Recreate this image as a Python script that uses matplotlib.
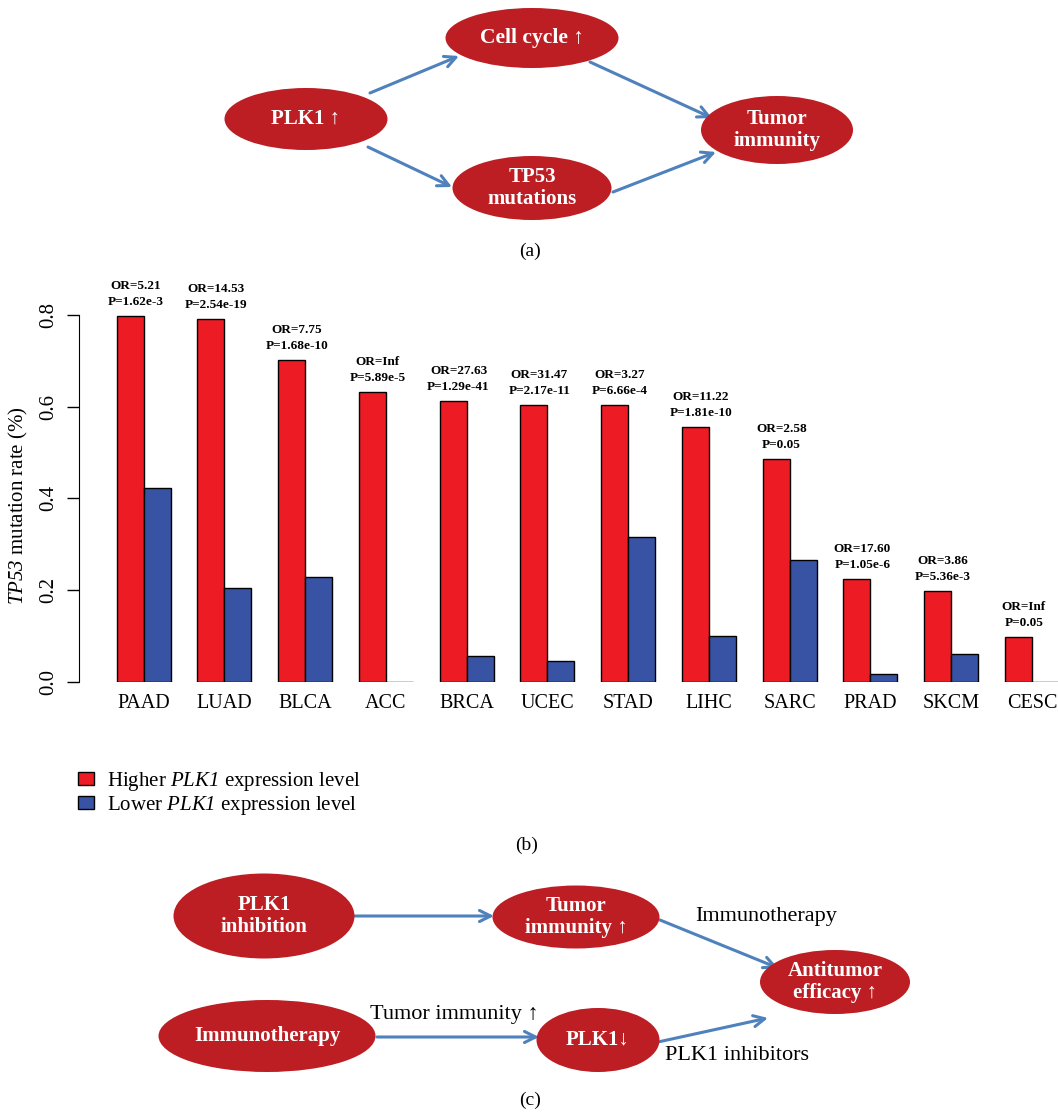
import numpy as np
import matplotlib
matplotlib.use("Agg")
import matplotlib.pyplot as plt
from matplotlib.patches import Ellipse, Patch

plt.rcParams['font.family'] = ['Liberation Serif', 'DejaVu Serif']
# mathtext is only used for the italic gene names, digits included
plt.rcParams['mathtext.fontset'] = 'custom'
plt.rcParams['mathtext.rm'] = 'Liberation Serif:italic'
plt.rcParams['mathtext.it'] = 'Liberation Serif:italic'

# TP53 mutation rate by PLK1 expression group
cancers = ["PAAD", "LUAD", "BLCA", "ACC", "BRCA", "UCEC",
           "STAD", "LIHC", "SARC", "PRAD", "SKCM", "CESC"]
higher_plk1 = [0.797, 0.791, 0.701, 0.632, 0.612, 0.604,
               0.603, 0.556, 0.485, 0.224, 0.197, 0.097]
lower_plk1 = [0.423, 0.204, 0.229, 0.0, 0.055, 0.045,
              0.316, 0.100, 0.265, 0.017, 0.060, 0.0]
odds_ratios = ["5.21", "14.53", "7.75", "Inf", "27.63", "31.47",
               "3.27", "11.22", "2.58", "17.60", "3.86", "Inf"]
p_values = ["1.62e-3", "2.54e-19", "1.68e-10", "5.89e-5", "1.29e-41", "2.17e-11",
            "6.66e-4", "1.81e-10", "0.05", "1.05e-6", "5.36e-3", "0.05"]
yticks = [0.0, 0.2, 0.4, 0.6, 0.8]

W, H = 1058, 1113
RED = "#ED1C24"
BLUE = "#3953A4"
NODE = "#BC1E24"
ARROW = "#4F81BD"

fig = plt.figure(figsize=(W / 100, H / 100), dpi=100)

# full-figure canvas in pixel units for the two flow diagrams
canvas = fig.add_axes([0, 0, 1, 1])
canvas.set_xlim(0, W)
canvas.set_ylim(H, 0)
canvas.axis("off")


def node(x, y, w, h, text, size=15):
    canvas.add_patch(Ellipse((x, y), w, h, facecolor=NODE, edgecolor="none", zorder=2))
    canvas.text(x, y, text, color="white", fontsize=size, fontweight="bold",
                ha="center", va="center", linespacing=1.1, zorder=3)


def arrow(start, end):
    canvas.annotate("", xy=end, xytext=start,
                    arrowprops=dict(arrowstyle="->", color=ARROW, lw=2.2,
                                    mutation_scale=20, shrinkA=0, shrinkB=0),
                    zorder=1)


# (a) PLK1 -> cell cycle / TP53 -> tumor immunity
arrow((370, 93), (459, 56))
arrow((368, 147), (452, 187))
arrow((590, 62), (712, 118))
arrow((613, 192), (716, 152))
node(532, 38, 173, 60, "Cell cycle \u2191", size=15.5)
node(306, 119, 163, 62, "PLK1 \u2191")
node(532, 188, 159, 64, "TP53\nmutations")
node(777, 130, 152, 68, "Tumor\nimmunity")
canvas.text(530, 251, "(a)", fontsize=14, ha="center", va="center")

# (c) combination of PLK1 inhibition and immunotherapy
arrow((355, 916), (494, 916))
arrow((377, 1037), (539, 1037))
arrow((660, 920), (778, 968))
arrow((658, 1042), (768, 1018))
node(264, 916, 181, 85, "PLK1\ninhibition")
node(576, 917, 167, 63, "Tumor\nimmunity \u2191")
node(267, 1036, 217, 72, "Immunotherapy")
node(598, 1040, 123, 64, "PLK1\u2193")
node(835, 982, 150, 64, "Antitumor\nefficacy \u2191")
canvas.text(766, 916, "Immunotherapy", fontsize=16, ha="center", va="center")
canvas.text(454, 1015, "Tumor immunity \u2191", fontsize=16, ha="center", va="center")
canvas.text(737, 1055, "PLK1 inhibitors", fontsize=16, ha="center", va="center")
canvas.text(530, 1100, "(c)", fontsize=14, ha="center", va="center")

# (b) grouped bar chart
ax = fig.add_axes([79 / W, 1 - 681.7 / H, 979 / W, 366.7 / H])
groups = np.arange(len(cancers)) * 3
x_red = groups + 1.5
x_blue = groups + 2.5
ax.bar(x_red, higher_plk1, width=1, color=RED, edgecolor="black", linewidth=1.0)
ax.bar(x_blue, lower_plk1, width=1, color=BLUE, edgecolor="black", linewidth=1.0)

for xr, top, odds, p in zip(x_red, higher_plk1, odds_ratios, p_values):
    ax.text(xr + 0.2, top + 0.018, f"OR={odds}\nP={p}", ha="center", va="bottom",
            fontsize=9.5, fontweight="bold", linespacing=1.45, clip_on=False)

ax.set_xlim(-0.40, 35.97)
ax.set_ylim(0, 0.8)
ax.set_yticks(yticks)
ax.set_yticklabels([f"{t:.1f}" for t in yticks], va="center")
ax.set_xticks(groups + 2)
ax.set_xticklabels(cancers)
ax.tick_params(axis="y", length=8.6, width=1, labelsize=15, pad=6, labelrotation=90)
ax.tick_params(axis="x", length=0, labelsize=14.5, pad=9)
for side in ["top", "right", "bottom"]:
    ax.spines[side].set_visible(False)
ax.spines["left"].set_bounds(0, 0.8)
ax.set_ylabel(r"$TP53$ mutation rate (%)", fontsize=15)
ax.yaxis.set_label_coords(-0.050, 0.48)

handles = [Patch(facecolor=RED, edgecolor="black", label=r"Higher $PLK1$ expression level"),
           Patch(facecolor=BLUE, edgecolor="black", label=r"Lower $PLK1$ expression level")]
fig.legend(handles=handles, loc="upper left", bbox_to_anchor=(78 / W, 1 - 770 / H),
           frameon=False, fontsize=15, handlelength=0.75, handleheight=0.6,
           handletextpad=0.65, labelspacing=0.05, borderpad=0, borderaxespad=0)
canvas.text(527, 845, "(b)", fontsize=14, ha="center", va="center")

fig.savefig("out.png", dpi=100)
